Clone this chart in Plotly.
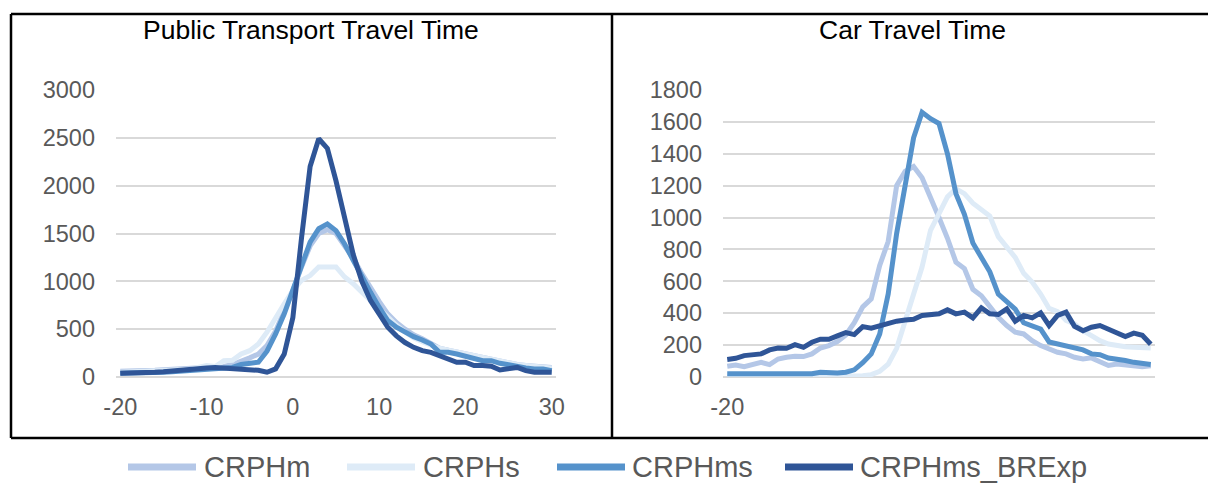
import plotly.graph_objects as go

# Time offsets (minutes) shared by both panels
offsets = list(range(-20, 31))

series_names = ["CRPHm", "CRPHs", "CRPHms", "CRPHms_BRExp"]
series_colors = ["#B4C7E7", "#DEEBF7", "#5592CB", "#2F5597"]

# Public transport travel time counts
pt_crphm = [60, 60, 65, 70, 70, 75, 80, 80, 85, 90,
            100, 105, 110, 130, 160, 200, 240, 330, 480, 680,
            900, 1150, 1370, 1500, 1540, 1500, 1380, 1240, 1080, 930,
            790, 660, 570, 500, 440, 400, 350, 300, 280, 260,
            240, 220, 200, 180, 160, 150, 130, 120, 110, 100, 100]
pt_crphs = [50, 55, 55, 60, 60, 65, 70, 75, 80, 100,
            120, 110, 170, 175, 240, 275, 345, 468, 625, 765,
            905, 1010, 1060, 1150, 1150, 1150, 1045, 975, 886, 800,
            700, 620, 540, 470, 410, 370, 330, 300, 280, 260,
            250, 230, 210, 190, 170, 150, 130, 120, 110, 100, 95]
pt_crphms = [40, 40, 42, 45, 48, 50, 55, 60, 65, 70,
             80, 80, 95, 100, 130, 145, 155, 270, 450, 660,
             900, 1150, 1410, 1550, 1600, 1530, 1390, 1220, 1045, 885,
             730, 590, 520, 468, 422, 387, 345, 258, 258, 240,
             213, 188, 171, 171, 143, 129, 108, 94, 84, 84, 66]
pt_brexp = [40, 40, 40, 50, 50, 55, 65, 75, 80, 90,
            95, 100, 95, 80, 80, 75, 70, 50, 85, 240,
            620, 1450, 2200, 2490, 2390, 2050, 1660, 1280, 1000, 800,
            660, 520, 430, 360, 310, 275, 258, 223, 178, 154,
            154, 119, 119, 112, 73, 84, 100, 66, 50, 50, 50]

# Car travel time counts
car_crphm = [67, 75, 65, 82, 92, 78, 113, 124, 130, 128,
             145, 182, 197, 222, 264, 340, 440, 490, 700, 850,
             1200, 1290, 1320, 1250, 1130, 1000, 870, 720, 680, 550,
             510, 440, 375, 323, 281, 270, 228, 197, 176, 155,
             145, 124, 113, 120, 96, 72, 82, 78, 71, 65, 71]
car_crphs = [5, 5, 5, 5, 5, 5, 5, 5, 5, 5,
             5, 5, 5, 6, 6, 7, 8, 15, 35, 80,
             180, 350, 520, 690, 920, 1020, 1130, 1180, 1150, 1090,
             1045, 1010, 880, 815, 750, 650, 595, 520, 430, 410,
             355, 333, 290, 260, 228, 207, 197, 190, 187, 183, 182]
car_crphms = [20, 20, 18, 20, 22, 22, 22, 20, 20, 15,
              20, 30, 25, 25, 30, 45, 90, 145, 270, 520,
              900, 1190, 1500, 1660, 1620, 1590, 1400, 1150, 1020, 840,
              750, 660, 520, 470, 425, 340, 323, 300, 220, 207,
              197, 176, 170, 145, 140, 119, 113, 103, 92, 86, 78]
car_brexp = [110, 117, 134, 138, 145, 170, 182, 180, 203, 186,
             218, 237, 237, 258, 279, 266, 316, 306, 321, 337,
             350, 358, 362, 386, 392, 396, 421, 396, 407, 371,
             434, 396, 392, 427, 350, 386, 371, 402, 323, 386,
             407, 318, 290, 312, 323, 302, 281, 254, 275, 262, 205]

pt_series = [pt_crphm, pt_crphs, pt_crphms, pt_brexp]
car_series = [car_crphm, car_crphs, car_crphms, car_brexp]

panel_titles = ["Public Transport Travel Time", "Car Travel Time"]
pt_yticks = [0, 500, 1000, 1500, 2000, 2500, 3000]
car_yticks = [0, 200, 400, 600, 800, 1000, 1200, 1400, 1600, 1800]
pt_xticks = [-20, -10, 0, 10, 20, 30]
pt_xlabels = ["-20", "-10", "0", "10", "20", "30"]
car_xticks = [-20]
car_xlabels = ["-20"]

W, H = 1208, 485
FONT = "Liberation Sans, Arial, sans-serif"
TICK_COLOR = "#595959"
GRID_COLOR = "#D9D9D9"
LINE_W = 5


def px(x):
    return x / W


def py(y):
    return 1 - y / H


fig = go.Figure()

for name, color, ys in zip(series_names, series_colors, pt_series):
    fig.add_trace(go.Scatter(x=offsets, y=ys, name=name, mode="lines",
                             line=dict(color=color, width=LINE_W),
                             xaxis="x", yaxis="y", showlegend=False))
for name, color, ys in zip(series_names, series_colors, car_series):
    fig.add_trace(go.Scatter(x=offsets, y=ys, name=name, mode="lines",
                             line=dict(color=color, width=LINE_W),
                             xaxis="x2", yaxis="y2", showlegend=False))

plot_top, plot_bottom = 90, 377
ydom = [py(plot_bottom), py(plot_top)]

common_x = dict(range=[-20.5, 30.5], showgrid=False, zeroline=False,
                showline=False, ticks="", ticklabelstandoff=13, automargin=False,
                tickfont=dict(family=FONT, size=23.5, color=TICK_COLOR))
common_y = dict(showgrid=True, gridcolor=GRID_COLOR, gridwidth=1.5,
                zeroline=True, zerolinecolor=GRID_COLOR, zerolinewidth=1.5,
                showline=False, ticks="", ticklabelstandoff=20, automargin=False,
                tickfont=dict(family=FONT, size=23.5, color=TICK_COLOR))

fig.update_layout(
    width=W, height=H,
    margin=dict(l=0, r=0, t=0, b=0, pad=0),
    paper_bgcolor="white", plot_bgcolor="white",
    showlegend=False,
    xaxis=dict(domain=[px(116), px(556)], tickvals=pt_xticks, ticktext=pt_xlabels,
               anchor="y", **common_x),
    yaxis=dict(domain=ydom, range=[0, 3000], tickvals=pt_yticks, anchor="x", **common_y),
    xaxis2=dict(domain=[px(723), px(1155)], tickvals=car_xticks, ticktext=car_xlabels,
                anchor="y2", **common_x),
    yaxis2=dict(domain=ydom, range=[0, 1800], tickvals=car_yticks, anchor="x2", **common_y),
)

# Panel titles
for title, cx in zip(panel_titles, [311, 913]):
    fig.add_annotation(text=title, x=px(cx), y=py(30), xref="paper", yref="paper",
                       xanchor="center", yanchor="middle", showarrow=False,
                       font=dict(family=FONT, size=26.5, color="black"))

# Panel frames
frame = dict(type="line", xref="paper", yref="paper",
             line=dict(color="black", width=2.5))
fig.add_shape(x0=px(11), x1=px(1208), y0=py(14), y1=py(14), **frame)
fig.add_shape(x0=px(11), x1=px(1208), y0=py(438), y1=py(438), **frame)
fig.add_shape(x0=px(11), x1=px(11), y0=py(14), y1=py(438), **frame)
fig.add_shape(x0=px(612), x1=px(612), y0=py(14), y1=py(438), **frame)

# Legend row below the panels
legend_samples = [(128, 196, 202), (347, 415, 421), (557, 625, 630), (785, 853, 858)]
legend_y = 467
for (x0, x1, tx), name, color in zip(legend_samples, series_names, series_colors):
    fig.add_shape(type="line", xref="paper", yref="paper",
                  x0=px(x0), x1=px(x1), y0=py(legend_y), y1=py(legend_y),
                  line=dict(color=color, width=7))
    fig.add_annotation(text=name, x=px(tx), y=py(legend_y), xref="paper", yref="paper",
                       xanchor="left", yanchor="middle", showarrow=False,
                       font=dict(family=FONT, size=29, color=TICK_COLOR))

fig.write_html("out.html")
